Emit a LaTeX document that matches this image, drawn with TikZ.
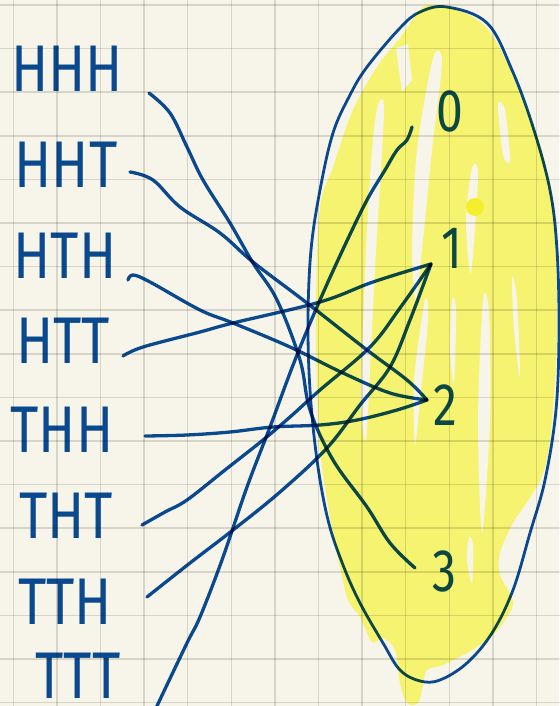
\documentclass[tikz,border=0pt]{standalone}
\usepackage{fontspec}
\setmainfont{Fira Sans}
\definecolor{paper}{RGB}{247,245,234}
\definecolor{gridc}{RGB}{222,221,218}
\definecolor{ink}{RGB}{12,76,156}
\definecolor{hl}{RGB}{246,243,112}
\definecolor{hldot}{RGB}{243,239,45}
\begin{document}
\begin{tikzpicture}[x=1pt,y=-1pt,line cap=round,line join=round,
  lab/.style={font=\fontsize{66}{66}\selectfont,text=ink,inner sep=0pt,xscale=0.83},
  num/.style={font=\fontsize{60}{60}\selectfont,text=ink,inner sep=0pt,xscale=0.8},
  wire/.style={draw=ink,line width=3.3pt},
  gap/.style={fill=paper}]
\useasboundingbox (0,0) rectangle (559,706);
\fill[paper] (0,0) rectangle (559,706);
% highlighter
\fill[hl] plot[smooth cycle,tension=0.55] coordinates {
 (433,5) (458,10) (485,26) (505,58) (523,100) (540,145) (552,200)
 (556,260) (557,340) (552,420) (545,467) (533,493) (513,523) (500,553)
 (500,575) (513,603) (500,627) (487,640) (467,653) (443,665) (427,670)
 (423,685) (418,703) (407,703) (400,683) (395,650) (383,638) (372,642)
 (360,617) (348,600) (340,567) (330,517) (320,450) (317,383) (316,300)
 (320,207) (333,167) (353,110) (377,67) (400,38) (420,10)};
\fill[gap] (396,48) -- (408,44) -- (412,80) -- (402,92) -- cycle;
\fill[gap] plot[smooth cycle,tension=0.5] coordinates {(433,58) (442,62) (432,150) (424,230) (416,300) (412,250) (417,150)};
\fill[gap] plot[smooth cycle,tension=0.5] coordinates {(378,105) (384,112) (376,250) (371,350) (366,440) (361,400) (366,250) (372,150)};
\fill[gap] plot[smooth cycle,tension=0.5] coordinates {(472,168) (478,175) (471,273) (466,220)};
\fill[gap] plot[smooth cycle,tension=0.5] coordinates {(498,105) (505,110) (510,160) (503,155)};
\fill[gap] plot[smooth cycle,tension=0.5] coordinates {(483,300) (489,312) (490,420) (482,533) (478,420)};
\fill[gap] plot[smooth cycle,tension=0.5] coordinates {(452,300) (456,310) (454,383) (450,350)};
\fill[gap] plot[smooth cycle,tension=0.5] coordinates {(512,277) (517,300) (520,377) (514,330)};
\fill[gap] plot[smooth cycle,tension=0.5] coordinates {(425,300) (428,320) (420,400) (415,445) (414,380)};
\fill[gap] plot[smooth cycle,tension=0.5] coordinates {(469,537) (473,545) (472,583) (467,560)};
\fill[hldot] (475,207) circle[radius=9];
\begin{scope}[blend mode=multiply]
% grid
\foreach \i in {0,...,12} \draw[gridc,line width=1.5pt] (13.3+43.6*\i,0) -- (13.3+43.6*\i,706);
\foreach \j in {0,...,16} \draw[gridc,line width=1.5pt] (0,5+43.6*\j) -- (559,5+43.6*\j);
% set outline
\draw[ink,line width=2.8pt] plot[smooth cycle,tension=0.6] coordinates {
 (447,7) (487,23) (512,70) (533,127) (550,190) (557,250) (559,330) (556,410)
 (545,480) (530,533) (513,590) (492,633) (467,663) (440,680) (420,681)
 (400,670) (383,643) (360,603) (343,565) (328,520) (317,460) (310,390)
 (308,320) (311,250) (320,190) (333,133) (350,95) (367,67) (400,28) (420,12)};
% labels
\node[lab] (hhh) at (67,69) {HHH};
\node[lab] (hht) at (66,165) {HHT};
\node[lab] (hth) at (65,256) {HTH};
\node[lab] (htt) at (63,341) {HTT};
\node[lab] (thh) at (62,430) {THH};
\node[lab] (tht) at (66,516) {THT};
\node[lab] (tth) at (65,602) {TTH};
\node[lab] (ttt) at (78,676) {TTT};
\node[num] (n0) at (450,111) {0};
\node[num] (n1) at (452,248) {1};
\node[num] (n2) at (445,405) {2};
\node[num] (n3) at (444,571) {3};
% wire ends
\coordinate (e0) at (412,127);
\coordinate (e1) at (431,264);
\coordinate (e2) at (427,400);
\coordinate (e3) at (415,568);
\coordinate (s1) at (149,93);
\coordinate (s2) at (130,172);
\coordinate (s3) at (128,280);
\coordinate (s4) at (123,356);
\coordinate (s5) at (145,436);
\coordinate (s6) at (142,525);
\coordinate (s7) at (147,597);
\coordinate (s8) at (150,722);
% wires
\draw[wire] plot[smooth,tension=0.6] coordinates {(s1) (170,113) (187,147) (203,180) (230,223) (253,263) (277,300) (300,360) (310,410) (333,460) (367,507) (390,543) (e3)};
\draw[wire] plot[smooth,tension=0.6] coordinates {(s2) (153,180) (180,207) (220,233) (253,262) (307,303) (367,350) (407,380) (e2)};
\draw[wire] plot[smooth,tension=0.6] coordinates {(s3) (133,275) (150,282) (200,310) (233,323) (290,347) (343,373) (390,393) (e2)};
\draw[wire] plot[smooth,tension=0.6] coordinates {(s4) (143,347) (200,332) (233,323) (320,302) (373,282) (e1)};
\draw[wire] plot[smooth,tension=0.6] coordinates {(s5) (187,435) (230,432) (273,427) (320,425) (357,420) (397,410) (e2)};
\draw[wire] plot[smooth,tension=0.6] coordinates {(s6) (165,512) (187,500) (225,470) (263,440) (290,417) (320,390) (370,347) (400,308) (e1)};
\draw[wire] plot[smooth,tension=0.6] coordinates {(s7) (190,563) (233,530) (280,492) (327,448) (360,405) (390,367) (410,320) (e1)};
\draw[wire] plot[smooth,tension=0.6] coordinates {(s8) (157,706) (187,643) (200,617) (222,560) (247,487) (270,427) (295,360) (320,300) (345,245) (367,200) (385,170) (397,150) (407,140) (e0)};
\end{scope}
\end{tikzpicture}
\end{document}
